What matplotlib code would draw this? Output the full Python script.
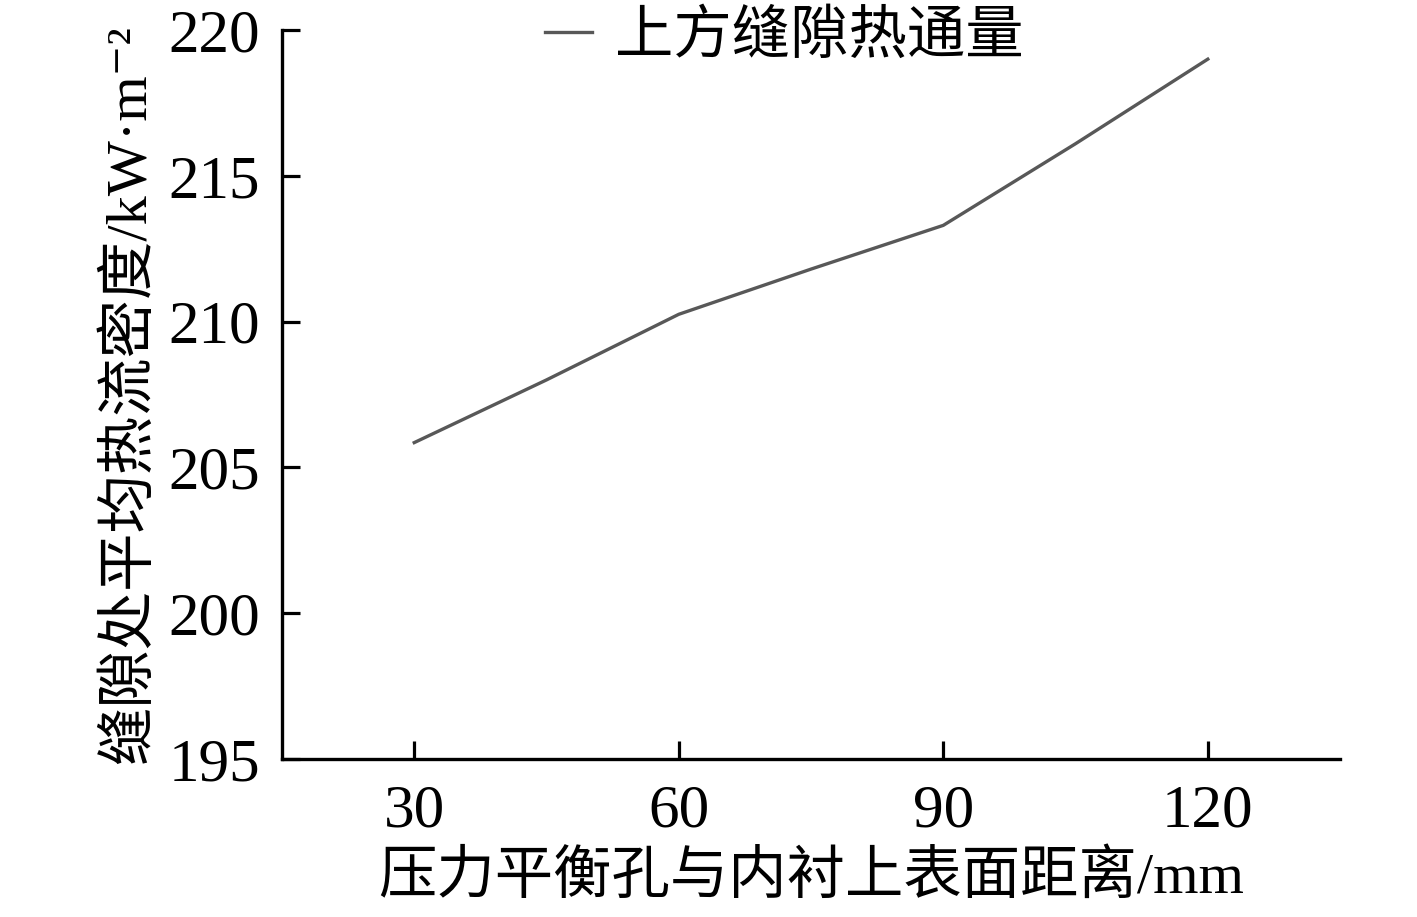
import matplotlib
matplotlib.use("Agg")
import matplotlib.pyplot as plt

plt.rcParams['font.family'] = ['Liberation Serif', 'Noto Sans CJK SC', 'DejaVu Serif']

distance = [30, 45, 60, 75, 90, 105, 120]
heat_flux = [205.85, 208.0, 210.25, 211.8, 213.3, 216.1, 219.0]
xticks = [30, 60, 90, 120]
yticks = [195, 200, 205, 210, 215, 220]
series_label = '上方缝隙热通量'
xlabel = '压力平衡孔与内衬上表面距离/mm'
ylabel = '缝隙处平均热流密度/kW·m⁻²'

fig = plt.figure(figsize=(14.17, 9.17), dpi=100)
ax = fig.add_axes([0.199, 0.1723, 0.7467, 0.795])
ax.plot(distance, heat_flux, color='#585858', lw=2.4, label=series_label)
ax.set_xlim(15, 135)
ax.set_ylim(195, 220)
ax.set_xticks(xticks)
ax.set_yticks(yticks)
ax.tick_params(direction='in', length=13, width=2.3, labelsize=44)
ax.tick_params(axis='x', pad=18)
ax.tick_params(axis='y', pad=16)
for s in ['top', 'right']:
    ax.spines[s].set_visible(False)
for s in ['left', 'bottom']:
    ax.spines[s].set_linewidth(2.4)
ax.set_xlabel(xlabel, fontsize=42, labelpad=8)
ax.set_ylabel(ylabel, fontsize=42, labelpad=8,
              family=['Liberation Serif', 'Noto Sans CJK SC', 'DejaVu Serif'])
ax.legend(loc='center', bbox_to_anchor=(0.475, 0.99), frameon=False, fontsize=42,
          handlelength=0.8, handletextpad=0.4)
fig.savefig('out.png', dpi=100, facecolor='white')
